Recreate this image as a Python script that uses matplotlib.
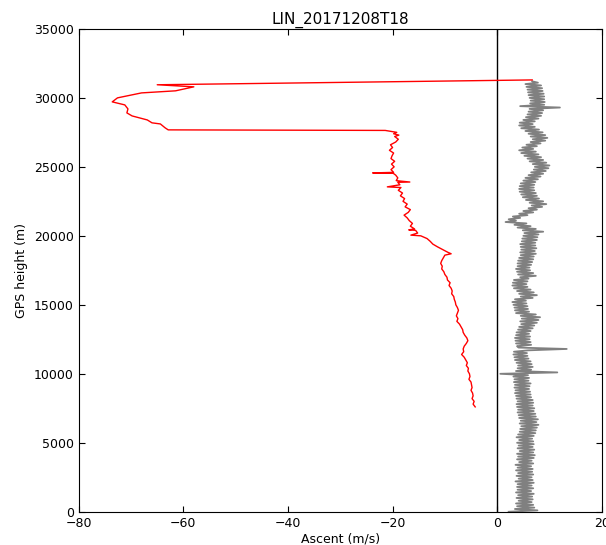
import matplotlib
matplotlib.use("Agg")
import matplotlib.pyplot as plt
import numpy as np

title = "LIN_20171208T18"

# ascent profile: speed (m/s) every 100 m from 0 to 31200 m (one row = 1 km)
ascent_h = np.arange(0, 31201, 100)
ascent_v = [
    2.2, 7.7, 3.4, 7.1, 3.8, 6.9, 3.6, 6.6, 4.1, 6.8,
    3.7, 6.7, 4.0, 7.0, 3.6, 6.5, 3.9, 6.9, 3.8, 6.6,
    3.9, 7.0, 3.5, 6.8, 4.1, 6.6, 3.7, 6.9, 4.0, 6.7,
    3.6, 6.8, 3.9, 6.5, 3.5, 6.9, 4.2, 6.6, 3.8, 7.0,
    4.0, 7.2, 3.8, 6.9, 4.3, 7.1, 3.9, 6.8, 4.1, 7.0,
    3.8, 6.9, 4.2, 6.7, 3.7, 7.0, 4.0, 7.3, 4.3, 7.4,
    4.4, 7.6, 4.6, 7.9, 4.3, 7.5, 4.5, 7.8, 4.2, 7.4,
    4.1, 7.3, 3.9, 7.0, 4.0, 7.1, 3.8, 6.8, 3.7, 6.9,
    3.9, 6.8, 3.7, 6.5, 3.6, 6.4, 3.4, 6.3, 3.5, 6.1,
    3.3, 6.2, 3.4, 6.4, 3.2, 6.0, 3.3, 6.1, 3.1, 5.9,
    0.6, 11.5, 3.6, 6.5, 3.9, 6.8, 4.0, 6.6, 3.7, 6.4,
    3.4, 6.0, 3.3, 5.8, 3.1, 5.7, 3.2, 5.9, 13.3, 4.1,
    3.8, 6.5, 3.6, 6.4, 3.5, 6.2, 3.4, 6.3, 3.6, 6.1,
    3.7, 6.4, 4.0, 6.8, 4.2, 7.1, 4.6, 7.6, 4.4, 7.9,
    4.7, 8.2, 4.5, 7.4, 3.6, 6.1, 3.4, 5.9, 3.3, 5.8,
    3.1, 5.6, 2.9, 5.5, 3.4, 6.8, 4.5, 7.6, 4.2, 7.0,
    3.8, 6.4, 3.2, 5.8, 2.9, 5.6, 3.0, 5.8, 3.2, 6.0,
    4.4, 7.4, 4.0, 6.9, 3.8, 6.3, 3.6, 6.2, 3.9, 6.5,
    3.9, 6.7, 4.0, 6.9, 4.2, 7.0, 4.5, 7.4, 4.4, 7.2,
    4.6, 7.5, 4.5, 7.3, 4.4, 7.3, 4.7, 7.6, 4.8, 7.7,
    5.0, 7.9, 5.2, 8.8, 4.9, 7.4, 3.9, 6.4, 3.3, 5.6,
    1.6, 3.6, 2.2, 4.4, 3.0, 5.8, 4.2, 6.9, 5.0, 7.6,
    6.0, 8.6, 6.6, 9.4, 6.2, 8.8, 5.5, 8.0, 4.9, 7.6,
    4.6, 7.4, 4.3, 7.1, 4.2, 7.0, 4.3, 7.1, 4.5, 7.3,
    5.0, 7.8, 5.4, 8.3, 6.0, 8.8, 6.5, 9.3, 7.0, 9.8,
    7.2, 10.0, 6.8, 9.4, 6.2, 8.8, 5.8, 8.4, 5.2, 7.9,
    4.6, 7.4, 4.2, 6.9, 4.8, 7.6, 5.6, 8.3, 6.4, 9.2,
    6.8, 9.6, 6.4, 9.2, 6.0, 8.7, 5.4, 8.0, 4.6, 7.2,
    4.2, 6.8, 4.3, 7.2, 5.0, 7.9, 5.5, 8.4, 5.8, 8.6,
    6.0, 8.8, 6.2, 12.0, 4.4, 9.0, 6.3, 9.1, 6.4, 9.0,
    6.2, 9.0, 6.0, 8.9, 5.9, 8.7, 5.8, 8.6, 5.6, 8.4,
    5.4, 7.8, 6.7,
]

# descent profile: height (m) and speed (m/s), from burst downwards
descent_h = [
    31300, 30950, 30800, 30510, 30360, 30000, 29710, 29490, 29200, 28910,
    28690, 28400, 28190, 28110, 27830, 27680, 27640,
    27500, 27400, 27300, 27200, 27000, 26800, 26600, 26400, 26200, 26000,
    25800, 25600, 25400, 25200, 25000, 24800, 24600, 24560, 24540, 24400,
    24200, 24000, 23900, 23880, 23700, 23550, 23500, 23300, 23100, 22900,
    22700, 22500, 22300, 22100, 21900, 21700, 21500, 21300, 21100, 20900,
    20700, 20500, 20430, 20400, 20200, 20050, 20000, 19800, 19600, 19400,
    19200, 19000, 18800, 18700, 18600, 18400, 18200, 18000, 17800, 17600,
    17400, 17200, 17000, 16800, 16600, 16400, 16200, 16000, 15800, 15600,
    15400, 15200, 15000, 14800, 14600, 14400, 14200, 14000, 13800, 13600,
    13400, 13200, 13000, 12800, 12600, 12400, 12200, 12000, 11800, 11600,
    11400, 11200, 11000, 10800, 10600, 10400, 10200, 10000, 9800, 9600,
    9400, 9200, 9000, 8800, 8600, 8400, 8200, 8000, 7800, 7600,
]
descent_v = [
    6.7, -65.0, -58.0, -61.5, -68.0, -72.6, -73.6, -71.2, -70.6, -70.8,
    -69.8, -66.9, -66.0, -64.4, -63.5, -62.9, -21.4,
    -19.2, -19.8, -18.8, -19.6, -18.9, -19.4, -20.4, -20.0, -20.6, -19.8,
    -20.1, -20.3, -19.6, -20.2, -19.7, -20.3, -19.8, -23.8, -19.9, -19.4,
    -19.0, -19.3, -16.7, -19.0, -18.6, -21.0, -18.4, -18.9, -18.1, -18.5,
    -17.7, -18.0, -17.2, -17.6, -16.6, -17.0, -17.8, -17.2, -16.8, -16.2,
    -16.6, -15.8, -16.9, -15.6, -15.2, -16.5, -14.6, -13.4, -12.8, -12.3,
    -11.4, -10.4, -9.4, -8.8, -10.0, -10.3, -10.6, -10.8, -10.5, -10.6,
    -10.2, -10.0, -9.6, -9.5, -9.0, -9.2, -8.8, -8.6, -8.7, -8.3,
    -8.2, -8.0, -7.9, -7.6, -7.4, -7.6, -7.8, -7.5, -7.7, -7.2,
    -6.9, -6.6, -6.5, -6.2, -5.8, -5.6, -5.9, -6.3, -6.5, -6.4,
    -6.8, -6.3, -6.0, -5.7, -5.9, -5.5, -5.6, -5.3, -5.2, -5.4,
    -5.0, -4.9, -4.8, -5.0, -4.7, -4.6, -4.8, -4.4, -4.6, -4.2,
]

fig = plt.figure(figsize=(6.06, 5.45), dpi=100)
ax = fig.add_axes([0.130, 0.061, 0.863, 0.886])

ax.axvline(0, color="k", lw=1)
ax.plot(ascent_v, ascent_h, color="gray", lw=1.3)
ax.plot(descent_v, descent_h, color="red", lw=1.0)

ax.set_xlim(-80, 20)
ax.set_ylim(0, 35000)
ax.set_xticks([-80, -60, -40, -20, 0, 20])
ax.set_yticks(range(0, 35001, 5000))
ax.tick_params(direction="in", top=True, right=True, labelsize=9, length=4)
ax.set_xlabel("Ascent (m/s)", fontsize=9, labelpad=2)
ax.set_ylabel("GPS height (m)", fontsize=9)
ax.set_title(title, fontsize=11, pad=4)

fig.savefig("out.png", dpi=100, facecolor="white")
